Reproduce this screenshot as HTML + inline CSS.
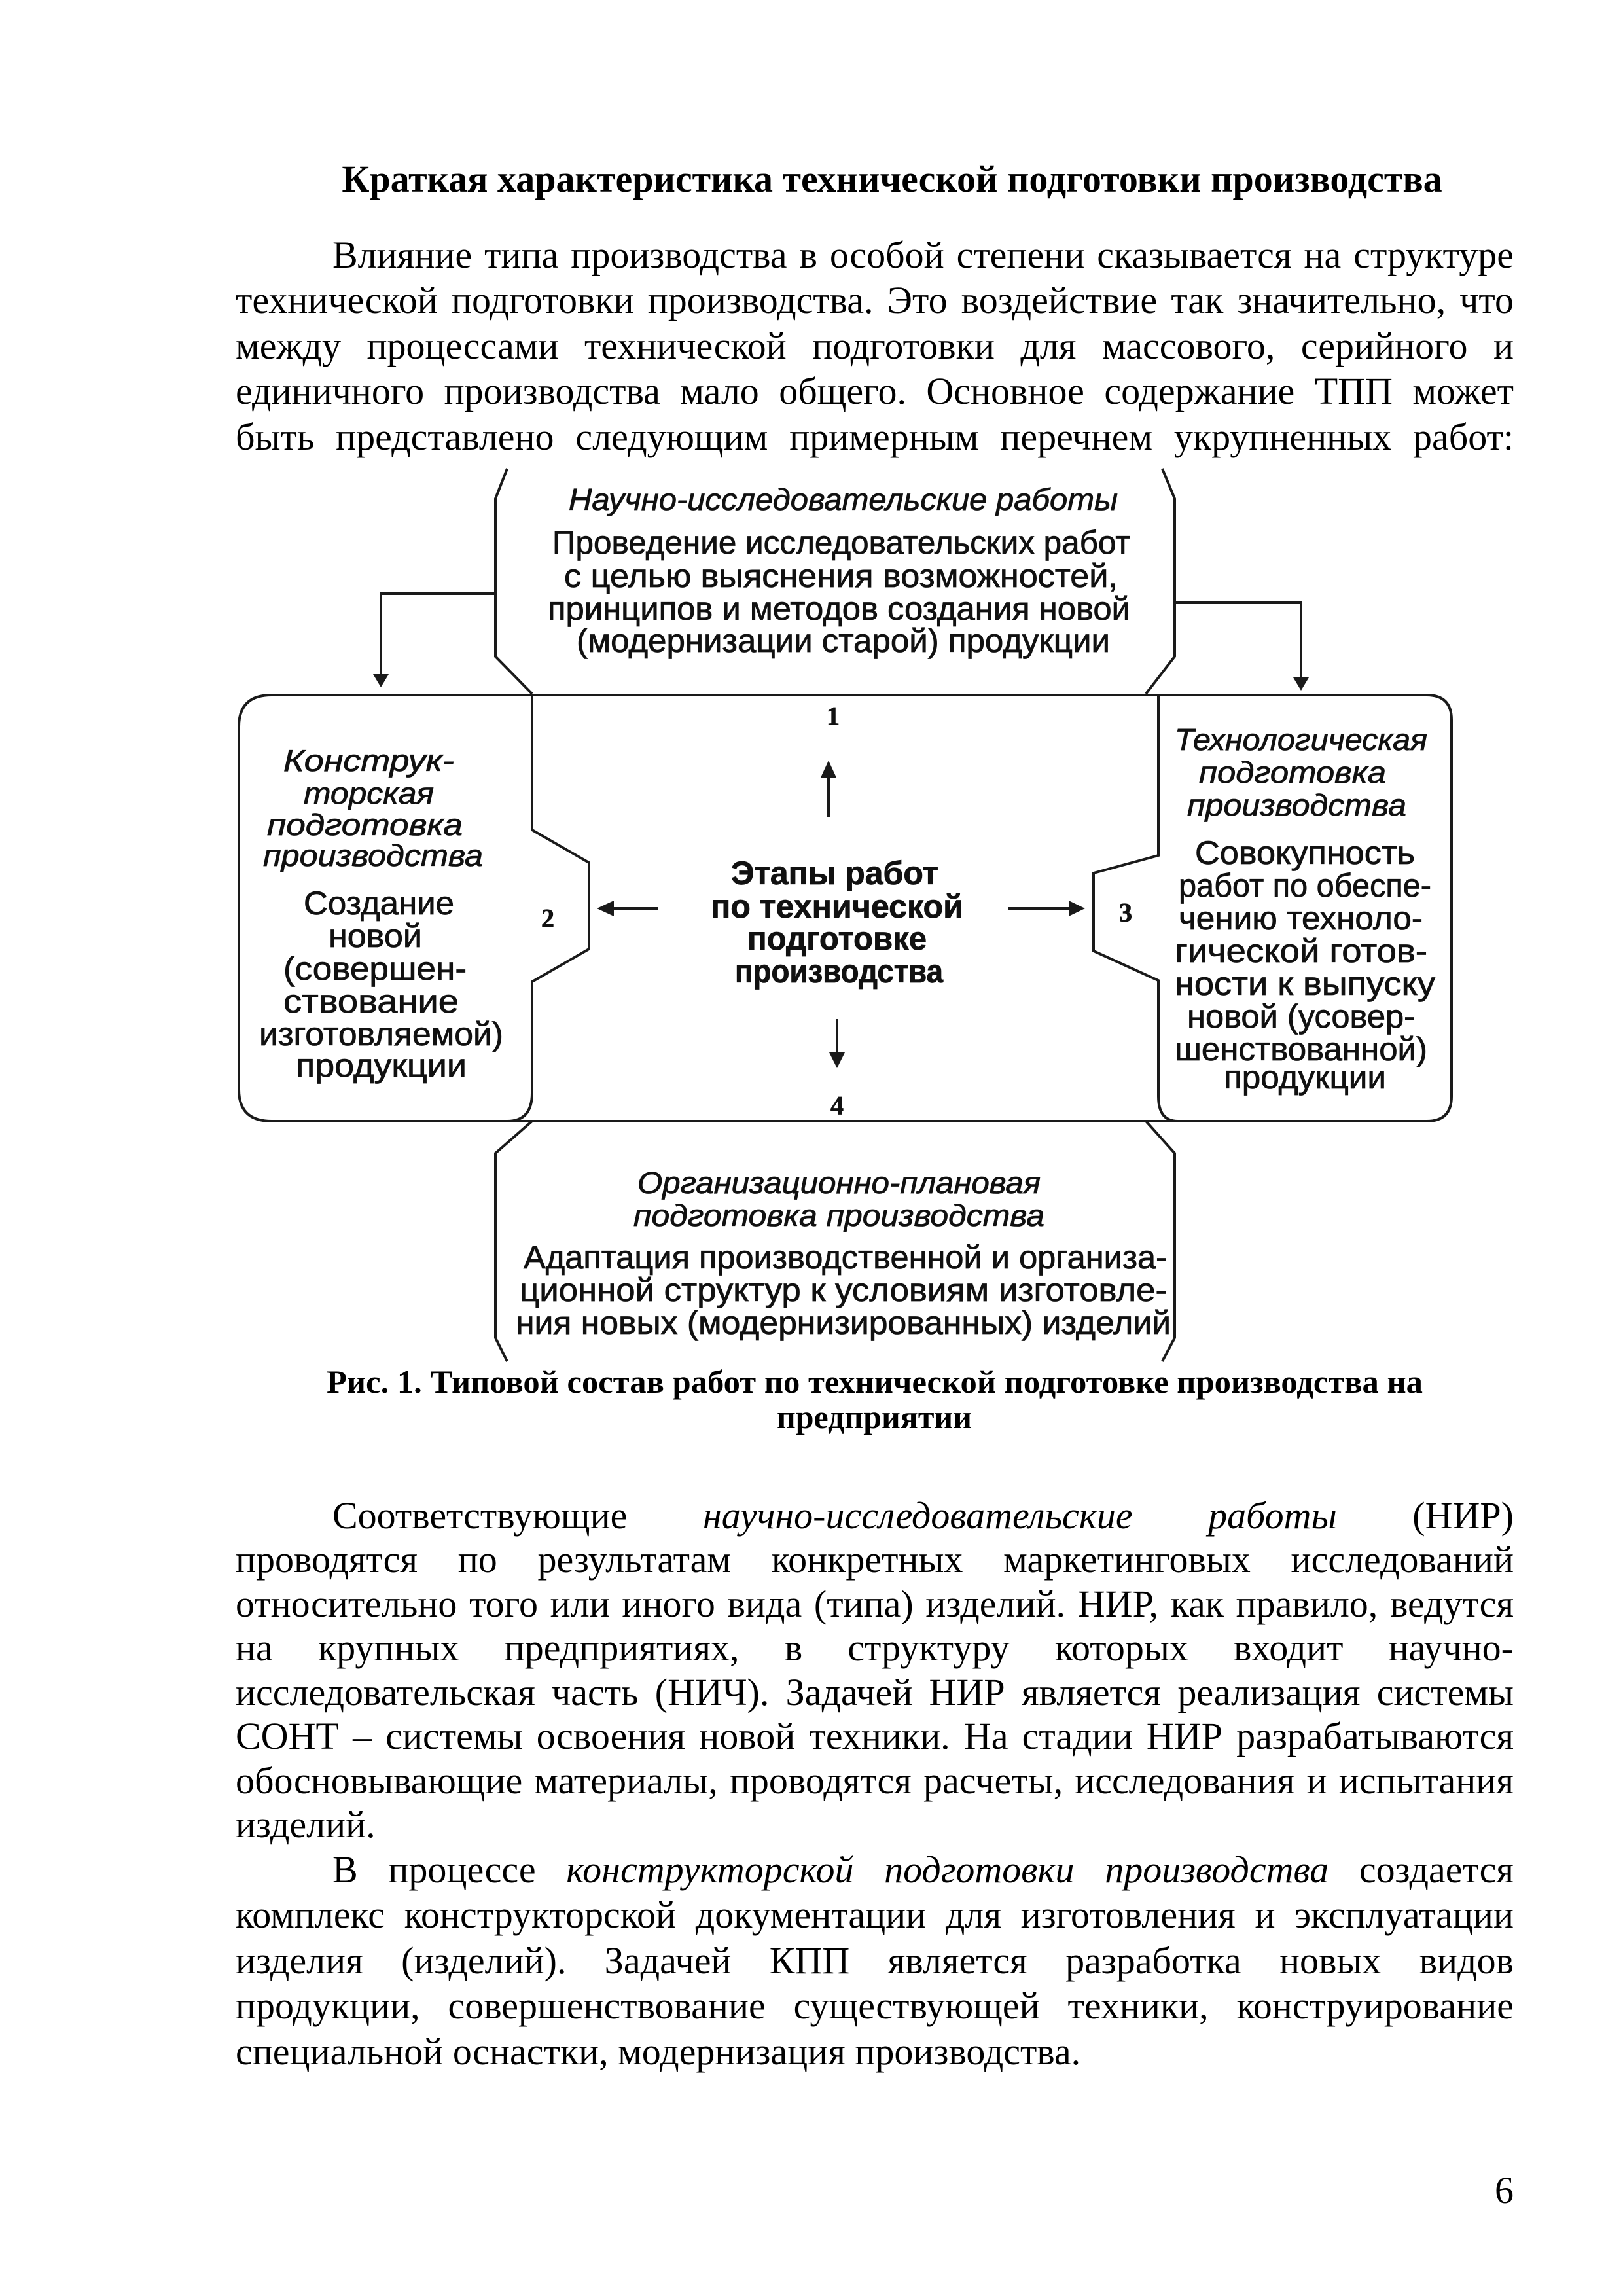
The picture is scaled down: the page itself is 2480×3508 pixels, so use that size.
<!DOCTYPE html>
<html><head><meta charset="utf-8">
<style>
html,body{margin:0;padding:0;background:#fff;}
body{width:2480px;height:3508px;position:relative;overflow:hidden;font-family:"Liberation Serif","Noto Serif CJK SC",serif;color:#000;}
.l{position:absolute;left:360px;width:1953px;font-size:58px;line-height:70px;height:70px;white-space:nowrap;text-align:justify;text-align-last:justify;}
.i{left:508px;width:1805px;}
.n{text-align-last:left;}
.t{position:absolute;left:123px;width:2480px;text-align:center;font-weight:bold;white-space:nowrap;}
svg{position:absolute;left:0;top:0;}
</style></head><body>
<div class="t" style="top:239px;font-size:58px;line-height:70px;">Краткая характеристика технической подготовки производства</div>

<div class="l i" style="top:355px">Влияние типа производства в особой степени сказывается на структуре</div>
<div class="l" style="top:424px">технической подготовки производства. Это воздействие так значительно, что</div>
<div class="l" style="top:494px">между процессами технической подготовки для массового, серийного и</div>
<div class="l" style="top:563px">единичного производства мало общего. Основное содержание ТПП может</div>
<div class="l" style="top:633px">быть представлено следующим примерным перечнем укрупненных работ:</div>

<svg width="2480" height="3508" viewBox="0 0 2480 3508">
<g fill="none" stroke="#1a1a1a" stroke-width="4">
<path d="M775 716 L757 762 L757 1003 L813 1060"/>
<path d="M1776 716 L1795 762 L1795 1003 L1751 1060"/>
<path d="M415 1062 L2180 1062"/>
<path d="M415 1713 L2180 1713"/>
<path d="M415 1062 Q365 1062 365 1110 L365 1665 Q365 1713 415 1713"/>
<path d="M813 1062 L813 1268 L900 1318 L900 1450 L813 1500 L813 1670 Q813 1713 775 1713"/>
<path d="M2180 1062 Q2218 1062 2218 1100 L2218 1675 Q2218 1713 2180 1713"/>
<path d="M1770 1062 L1770 1307 L1671 1334 L1671 1453 L1770 1498 L1770 1675 Q1770 1713 1800 1713"/>
<path d="M813 1713 L757 1762 L757 2044 L775 2080"/>
<path d="M1751 1713 L1795 1762 L1795 2044 L1776 2080"/>
<path d="M757 907 L582 907 L582 1030"/>
<path d="M1795 921 L1988 921 L1988 1035"/>
<path d="M1266 1248 L1266 1185"/>
<path d="M1005 1388 L935 1388"/>
<path d="M1540 1388 L1635 1388"/>
<path d="M1279 1557 L1279 1610"/>
</g>
<g fill="#1a1a1a">
<polygon points="570,1030 594,1030 582,1050"/>
<polygon points="1976,1035 2000,1035 1988,1055"/>
<polygon points="1254,1188 1278,1188 1266,1162"/>
<polygon points="938,1376 938,1400 912,1388"/>
<polygon points="1633,1376 1633,1400 1658,1388"/>
<polygon points="1267,1608 1291,1608 1279,1632"/>
</g>
<g font-family="Liberation Sans, sans-serif" fill="#111" dominant-baseline="central" stroke="#111" stroke-width="0.8">
<g font-style="italic" font-size="46">
<text x="869" y="763" textLength="839" lengthAdjust="spacingAndGlyphs">Научно-исследовательские работы</text>
<text x="433" y="1162" textLength="261" lengthAdjust="spacingAndGlyphs">Конструк-</text>
<text x="464" y="1212" textLength="199" lengthAdjust="spacingAndGlyphs">торская</text>
<text x="408" y="1260" textLength="299" lengthAdjust="spacingAndGlyphs">подготовка</text>
<text x="402" y="1307" textLength="336" lengthAdjust="spacingAndGlyphs">производства</text>
<text x="1795" y="1130" textLength="386" lengthAdjust="spacingAndGlyphs">Технологическая</text>
<text x="1832" y="1180" textLength="286" lengthAdjust="spacingAndGlyphs">подготовка</text>
<text x="1814" y="1230" textLength="335" lengthAdjust="spacingAndGlyphs">производства</text>
<text x="974" y="1807" textLength="616" lengthAdjust="spacingAndGlyphs">Организационно-плановая</text>
<text x="968" y="1857" textLength="628" lengthAdjust="spacingAndGlyphs">подготовка  производства</text>
</g>
<g font-size="50">
<text x="844" y="829" textLength="883" lengthAdjust="spacingAndGlyphs">Проведение исследовательских работ</text>
<text x="862" y="880" textLength="846" lengthAdjust="spacingAndGlyphs">с целью выяснения возможностей,</text>
<text x="837" y="930" textLength="890" lengthAdjust="spacingAndGlyphs">принципов и методов создания новой</text>
<text x="881" y="979" textLength="815" lengthAdjust="spacingAndGlyphs">(модернизации старой) продукции</text>
<text x="464" y="1380" textLength="230" lengthAdjust="spacingAndGlyphs">Создание</text>
<text x="502" y="1430" textLength="143" lengthAdjust="spacingAndGlyphs">новой</text>
<text x="433" y="1480" textLength="280" lengthAdjust="spacingAndGlyphs">(совершен-</text>
<text x="433" y="1530" textLength="268" lengthAdjust="spacingAndGlyphs">ствование</text>
<text x="396" y="1580" textLength="373" lengthAdjust="spacingAndGlyphs">изготовляемой)</text>
<text x="452" y="1628" textLength="261" lengthAdjust="spacingAndGlyphs">продукции</text>
<text x="1826" y="1303" textLength="336" lengthAdjust="spacingAndGlyphs">Совокупность</text>
<text x="1801" y="1353" textLength="386" lengthAdjust="spacingAndGlyphs">работ по обеспе-</text>
<text x="1801" y="1403" textLength="373" lengthAdjust="spacingAndGlyphs">чению техноло-</text>
<text x="1795" y="1453" textLength="386" lengthAdjust="spacingAndGlyphs">гической готов-</text>
<text x="1795" y="1503" textLength="398" lengthAdjust="spacingAndGlyphs">ности  к выпуску</text>
<text x="1814" y="1553" textLength="348" lengthAdjust="spacingAndGlyphs">новой (усовер-</text>
<text x="1795" y="1603" textLength="386" lengthAdjust="spacingAndGlyphs">шенствованной)</text>
<text x="1870" y="1646" textLength="248" lengthAdjust="spacingAndGlyphs">продукции</text>
<text x="800" y="1921" textLength="983" lengthAdjust="spacingAndGlyphs">Адаптация производственной и организа-</text>
<text x="794" y="1971" textLength="989" lengthAdjust="spacingAndGlyphs">ционной структур  к условиям изготовле-</text>
<text x="788" y="2021" textLength="1001" lengthAdjust="spacingAndGlyphs">ния новых (модернизированных) изделий</text>
</g>
<g font-size="50" font-weight="bold">
<text x="1117" y="1334" textLength="317" lengthAdjust="spacingAndGlyphs">Этапы работ</text>
<text x="1086" y="1385" textLength="386" lengthAdjust="spacingAndGlyphs">по технической</text>
<text x="1142" y="1434" textLength="274" lengthAdjust="spacingAndGlyphs">подготовке</text>
<text x="1123" y="1484" textLength="318" lengthAdjust="spacingAndGlyphs">производства</text>
</g>
<g font-size="40" font-family="Liberation Serif, serif" font-weight="bold" text-anchor="middle">
<text x="1273" y="1094">1</text>
<text x="837" y="1403">2</text>
<text x="1720" y="1394">3</text>
<text x="1279" y="1689">4</text>
</g>
</g>
<g font-family="Liberation Serif, serif" font-weight="bold" font-size="50" dominant-baseline="central">
<text x="499" y="2111" textLength="1675" lengthAdjust="spacingAndGlyphs">Рис. 1. Типовой состав работ по технической подготовке производства на</text>
<text x="1336" y="2165" text-anchor="middle">предприятии</text>
</g>
</svg>

<div class="l i" style="top:2281px">Соответствующие <i>научно-исследовательские работы</i> (НИР)</div>
<div class="l" style="top:2348px">проводятся по результатам конкретных маркетинговых исследований</div>
<div class="l" style="top:2416px">относительно того или иного вида (типа) изделий. НИР, как правило, ведутся</div>
<div class="l" style="top:2483px">на крупных предприятиях, в структуру которых входит научно-</div>
<div class="l" style="top:2551px">исследовательская часть (НИЧ). Задачей НИР является реализация системы</div>
<div class="l" style="top:2618px">СОНТ – системы освоения новой техники. На стадии НИР разрабатываются</div>
<div class="l" style="top:2686px">обосновывающие материалы, проводятся расчеты, исследования и испытания</div>
<div class="l n" style="top:2753px">изделий.</div>

<div class="l i" style="top:2822px">В процессе <i>конструкторской подготовки производства</i> создается</div>
<div class="l" style="top:2891px">комплекс конструкторской документации для изготовления и эксплуатации</div>
<div class="l" style="top:2961px">изделия (изделий). Задачей КПП является разработка новых видов</div>
<div class="l" style="top:3030px">продукции, совершенствование существующей техники, конструирование</div>
<div class="l n" style="top:3100px">специальной оснастки, модернизация производства.</div>

<div style="position:absolute;top:3312px;left:2213px;width:100px;text-align:right;font-size:58px;line-height:70px;">6</div>
</body></html>
